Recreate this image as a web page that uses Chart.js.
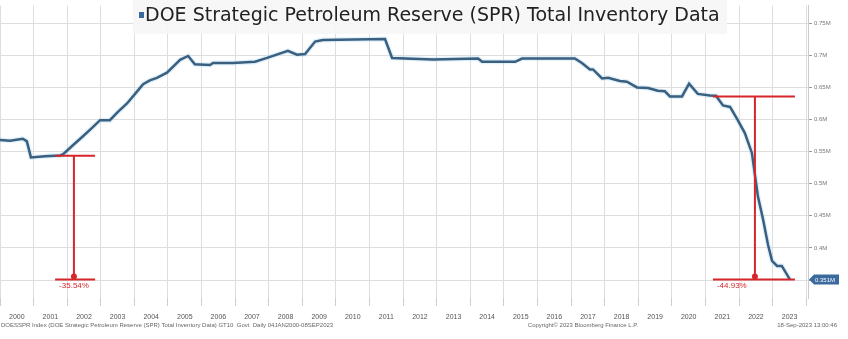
<!DOCTYPE html>
<html>
<head>
<meta charset="utf-8">
<script src="https://cdn.jsdelivr.net/npm/chart.js@4"></script>
<style>
  html, body { margin: 0; padding: 0; background: #fff; }
  canvas { display: block; }
</style>
</head>
<body>
<canvas id="sprChart" width="848" height="339"></canvas>
<script>
// data: decimal year -> inventory (M)
const dates = [
  2000.00, 2000.30, 2000.68, 2000.80, 2000.92, 2001.34, 2001.79, 2001.88,
  2002.17, 2002.47, 2002.74, 2002.98, 2003.27, 2003.51, 2003.78, 2004.02,
  2004.26, 2004.46, 2004.67, 2004.97, 2005.36, 2005.60, 2005.80, 2006.25,
  2006.34, 2006.93, 2007.59, 2007.95, 2008.57, 2008.84, 2009.08, 2009.38,
  2009.61, 2011.46, 2011.67, 2012.89, 2014.23, 2014.35, 2015.33, 2015.54,
  2017.11, 2017.32, 2017.56, 2017.65, 2017.92, 2018.10, 2018.45, 2018.66,
  2018.96, 2019.29, 2019.58, 2019.79, 2019.94, 2020.30, 2020.51, 2020.77,
  2021.13, 2021.31, 2021.52, 2021.73, 2021.96, 2022.17, 2022.38, 2022.56,
  2022.71, 2022.86, 2022.98, 2023.13, 2023.27, 2023.51
];
const inventory = [
  0.568, 0.567, 0.570, 0.566, 0.541, 0.543, 0.544, 0.546,
  0.560, 0.574, 0.587, 0.599, 0.599, 0.612, 0.625, 0.640,
  0.655, 0.661, 0.665, 0.673, 0.693, 0.699, 0.686, 0.685,
  0.688, 0.688, 0.690, 0.696, 0.707, 0.701, 0.702, 0.7215,
  0.724, 0.7255, 0.696, 0.6935, 0.695, 0.690, 0.690, 0.695,
  0.695, 0.688, 0.678, 0.678, 0.664, 0.665, 0.660, 0.659,
  0.650, 0.649, 0.645, 0.644, 0.636, 0.636, 0.656, 0.640,
  0.6375, 0.637, 0.622, 0.6196, 0.599, 0.579, 0.548, 0.480,
  0.445, 0.405, 0.380, 0.372, 0.372, 0.351
];

const years = [];
for (let y = 2000; y <= 2023; y++) years.push(y);
const yTicks = [0.35, 0.4, 0.45, 0.5, 0.55, 0.6, 0.65, 0.7, 0.75];

// red drawdown brackets: [from, to, stem, top value, bottom value, label]
const drops = [
  { x0: 2001.64, x1: 2002.83, stem: 2002.20, top: 0.5435, bottom: 0.351, label: "-35.54%" },
  { x0: 2021.22, x1: 2023.66, stem: 2022.47, top: 0.636, bottom: 0.351, label: "-44.93%" }
];
const lastLabel = "0.351M";

const points = dates.map((d, i) => ({ x: d, y: inventory[i] }));

// extras: title, footer, red brackets, last value tag
const overlay = {
  id: "overlay",
  afterDatasetsDraw(chart) {
    const { ctx, scales: { x, y } } = chart;
    ctx.save();

    // brackets
    ctx.strokeStyle = "#d7262b";
    ctx.fillStyle = "#d7262b";
    ctx.lineWidth = 2;
    drops.forEach((d) => {
      const xa = x.getPixelForValue(d.x0), xb = x.getPixelForValue(d.x1);
      const xs = x.getPixelForValue(d.stem);
      const yt = y.getPixelForValue(d.top), yb = y.getPixelForValue(d.bottom);
      ctx.beginPath();
      ctx.moveTo(xa, yt); ctx.lineTo(xb, yt);
      ctx.moveTo(xa, yb); ctx.lineTo(xb, yb);
      ctx.moveTo(xs, yt); ctx.lineTo(xs, yb);
      ctx.stroke();
      ctx.beginPath();
      ctx.arc(xs, yb - 3, 3, 0, Math.PI * 2);
      ctx.fill();
      ctx.font = "8px 'Liberation Sans'";
      ctx.textBaseline = "top";
      ctx.textAlign = "left";
      ctx.fillText(d.label, xa + 4, yb + 2);
    });

    // last value tag
    const ty = y.getPixelForValue(inventory[inventory.length - 1]);
    const tx = chart.chartArea.right + 1;
    ctx.fillStyle = "#3b6a9e";
    ctx.beginPath();
    ctx.moveTo(tx, ty);
    ctx.lineTo(tx + 5, ty - 5);
    ctx.lineTo(tx + 30, ty - 5);
    ctx.lineTo(tx + 30, ty + 5);
    ctx.lineTo(tx + 5, ty + 5);
    ctx.closePath();
    ctx.fill();
    ctx.fillStyle = "#fff";
    ctx.font = "6px 'Liberation Sans'";
    ctx.textAlign = "left";
    ctx.textBaseline = "middle";
    ctx.fillText(lastLabel, tx + 6, ty + 0.5);

    // title
    ctx.fillStyle = "rgba(246,246,246,0.92)";
    ctx.fillRect(133, 0, 594, 34);
    ctx.fillStyle = "#3b6a9e";
    ctx.fillRect(139, 12, 5, 6);
    ctx.fillStyle = "#222";
    ctx.font = "19px 'DejaVu Sans'";
    ctx.textAlign = "left";
    ctx.textBaseline = "middle";
    ctx.fillText("DOE Strategic Petroleum Reserve (SPR) Total Inventory Data", 145, 16);

    // footer
    ctx.fillStyle = "#666";
    ctx.font = "6px 'Liberation Sans'";
    ctx.textBaseline = "middle";
    ctx.textAlign = "left";
    ctx.fillText("DOESSPR Index (DOE Strategic Petroleum Reserve (SPR) Total Inventory Data) GT10  Govt  Daily 04JAN2000-08SEP2023", 1, 325);
    ctx.textAlign = "center";
    ctx.fillText("Copyright\u00a9 2023 Bloomberg Finance L.P.", 583, 325);
    ctx.textAlign = "right";
    ctx.fillText("18-Sep-2023 13:00:46", 837, 325);
    ctx.restore();
  }
};

new Chart(document.getElementById("sprChart"), {
  type: "line",
  data: {
    datasets: [
      {
        data: points,
        borderColor: "#3a5f7f",
        borderWidth: 2.5,
        pointRadius: 0,
        tension: 0,
        order: 1
      },
      {
        data: points,
        borderColor: "rgba(170,215,240,0.35)",
        borderWidth: 5,
        pointRadius: 0,
        tension: 0,
        order: 2
      }
    ]
  },
  options: {
    responsive: false,
    animation: false,
    layout: { padding: 0 },
    plugins: {
      legend: { display: false },
      tooltip: { enabled: false }
    },
    scales: {
      x: {
        type: "linear",
        min: 2000,
        max: 2024.05,
        afterBuildTicks: (scale) => {
          scale.ticks = years.map((yr) => ({ value: yr + 0.5 }));
        },
        afterFit: (scale) => { scale.height = 41; },
        grid: {
          offset: true,
          color: "#dedede",
          lineWidth: 1,
          tickLength: 8,
          tickColor: "#cfcfcf"
        },
        border: { display: false },
        ticks: {
          autoSkip: false,
          maxRotation: 0,
          padding: 7,
          color: "#555",
          font: { family: "Liberation Sans", size: 7 },
          callback: (v) => String(Math.floor(v))
        }
      },
      y: {
        type: "linear",
        position: "right",
        min: 0.322,
        max: 0.7775,
        afterBuildTicks: (scale) => {
          scale.ticks = yTicks.map((v) => ({ value: v }));
        },
        afterFit: (scale) => { scale.width = 40; },
        grid: {
          color: "#dedede",
          lineWidth: 1,
          tickLength: 4,
          tickColor: "#999"
        },
        border: { display: true, color: "#c8ccd2", width: 1 },
        ticks: {
          padding: 2,
          color: "#777",
          font: { family: "Liberation Sans", size: 6 },
          callback: (v) => (v < 0.36 ? "" : v + "M")
        }
      }
    }
  },
  plugins: [overlay]
});
</script>
</body>
</html>
